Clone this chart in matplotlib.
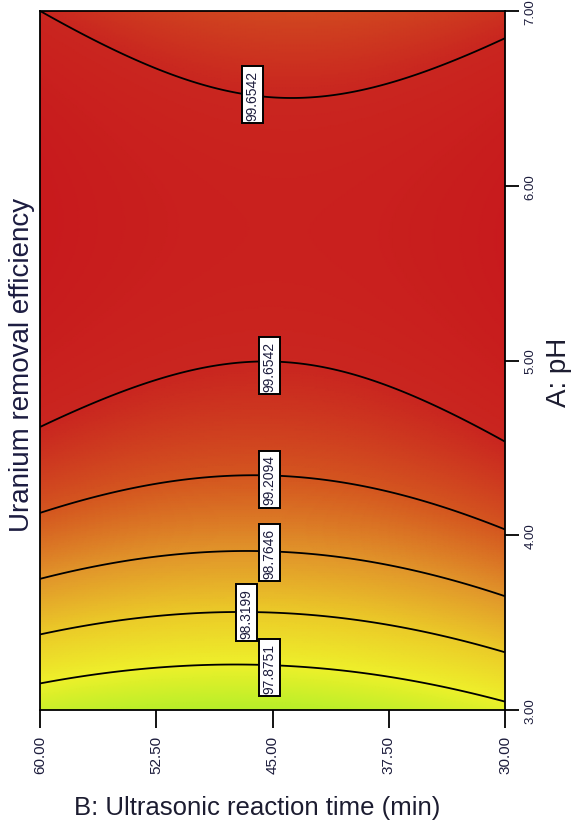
import numpy as np
import matplotlib
matplotlib.use("Agg")
import matplotlib.pyplot as plt
from matplotlib.colors import LinearSegmentedColormap, Normalize

# quadratic response surface (coded A=(pH-5)/2, B=(t-45)/15)
# terms: intercept, A, B, AB, A^2, B^2
coef = [99.657, 0.945, -0.015, 0.0756, -1.26, 0.252]

levels = [97.8751, 98.3199, 98.7646, 99.2094, 99.6542]

# contour label anchors (time, pH)
label_vals = ["99.6542", "99.6542", "99.2094", "98.7646", "98.3199", "97.8751"]
label_time = [46.3, 45.2, 45.2, 45.2, 46.7, 45.2]
label_ph = [6.52, 4.97, 4.32, 3.90, 3.556, 3.241]

time_ticks = [60.0, 52.5, 45.0, 37.5, 30.0]
ph_ticks = [3.0, 4.0, 5.0, 6.0, 7.0]

# colour stops (value, colour)
cmap_vals = [97.40, 97.88, 98.32, 98.76, 99.21, 99.65, 100.15]
cmap_cols = ["#b0ee28", "#eef02a", "#ebcb28", "#e1962a", "#d4561f", "#c9261f", "#c8181c"]


def response(ph, t):
    a = (ph - 5.0) / 2.0
    b = (t - 45.0) / 15.0
    return (coef[0] + coef[1] * a + coef[2] * b + coef[3] * a * b
            + coef[4] * a ** 2 + coef[5] * b ** 2)


lo, hi = cmap_vals[0], cmap_vals[-1]
stops = [((v - lo) / (hi - lo), c) for v, c in zip(cmap_vals, cmap_cols)]
cmap = LinearSegmentedColormap.from_list("de", stops)

t_grid = np.linspace(30, 60, 301)
ph_grid = np.linspace(3, 7, 401)
T, P = np.meshgrid(t_grid, ph_grid)
Z = response(P, T)

fig = plt.figure(figsize=(5.87, 8.28), dpi=100)
ax = fig.add_axes([40 / 587, 1 - 711 / 828, 465 / 587, 699 / 828])

ax.pcolormesh(T, P, Z, cmap=cmap, norm=Normalize(lo, hi), shading="gouraud")
ax.contour(T, P, Z, levels=levels, colors="black", linewidths=1.3)

for txt, tx, py in zip(label_vals, label_time, label_ph):
    ax.text(tx, py, txt, rotation=90, ha="center", va="center", fontsize=10,
            family="Liberation Sans", color="#1c1c3c",
            bbox=dict(boxstyle="square,pad=0.25", fc="white", ec="black", lw=1.4))

ax.set_xlim(60, 30)
ax.set_ylim(3, 7)
ax.set_xticks(time_ticks)
ax.set_xticklabels([f"{v:.2f}" for v in time_ticks], rotation=90,
                   family="Liberation Sans", fontsize=11, color="#1c1c3c")
ax.yaxis.tick_right()
ax.set_yticks(ph_ticks)
ax.set_yticklabels([f"{v:.2f}" for v in ph_ticks], rotation=90, va="center",
                   family="Liberation Sans", fontsize=9.5, color="#1c1c3c")
ax.tick_params(axis="x", direction="out", length=13, width=1.3, pad=5)
ax.tick_params(axis="y", direction="out", length=10, width=1.3, pad=4)
for s in ax.spines.values():
    s.set_linewidth(1.3)

fig.text(257 / 587, 1 - 808 / 828, "B: Ultrasonic reaction time (min)",
         ha="center", va="center", fontsize=18.5, family="Liberation Sans", color="#1c1c30")
fig.text(22 / 587, 1 - 365 / 828, "Uranium removal efficiency", rotation=90,
         ha="center", va="center", fontsize=20, family="Liberation Sans", color="#1c1c40")
fig.text(559 / 587, 1 - 372 / 828, "A: pH", rotation=90,
         ha="center", va="center", fontsize=20, family="Liberation Sans", color="#1c1c30")

fig.savefig("out.png", dpi=100)
